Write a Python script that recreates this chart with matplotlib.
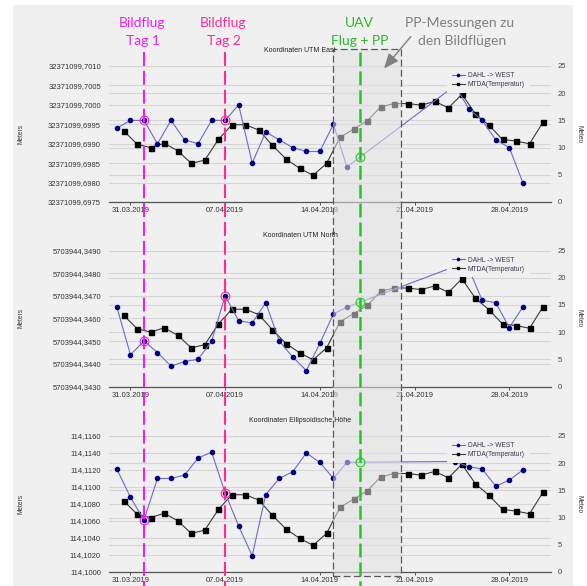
import matplotlib
matplotlib.use("Agg")
import matplotlib.pyplot as plt
import matplotlib.dates as mdates
import matplotlib.ticker as mticker
from matplotlib.lines import Line2D
from matplotlib.patches import Rectangle, FancyArrowPatch, ArrowStyle
from matplotlib.transforms import blended_transform_factory
import numpy as np
from datetime import datetime, timedelta

plt.rcParams['font.family'] = ['Liberation Sans', 'DejaVu Sans']
plt.rcParams['lines.scale_dashes'] = False

# ---------------- data ----------------
series_start = datetime(2019, 3, 30)
# MTDA temperature, daily values at 12:00 (30.03. - 30.04.)
temp_day_offsets = list(range(32))
temperature = [13.1, 10.6, 10.0, 10.8, 9.4, 7.1, 7.7, 11.5, 14.2, 14.2, 13.2, 10.4,
               7.9, 6.2, 4.9, 7.1, 11.9, 13.4, 14.9, 17.5, 18.1, 18.1, 17.8, 18.5,
               17.3, 19.8, 16.2, 14.1, 11.5, 11.2, 10.7, 14.7]
# DAHL -> WEST daily solutions at 00:00 (gap 17.04. - 23.04.)
gnss_day_offsets = list(range(0, 18)) + list(range(25, 31))
utm_east = [32371099.6994, 32371099.6996, 32371099.6996, 32371099.6990, 32371099.6996,
            32371099.6991, 32371099.6990, 32371099.6996, 32371099.6996, 32371099.7000,
            32371099.6985, 32371099.6993, 32371099.6991, 32371099.6989, 32371099.6988,
            32371099.6988, 32371099.6995, 32371099.6984,
            32371099.7005, 32371099.6999, 32371099.6996, 32371099.6991, 32371099.6989,
            32371099.6980]
utm_north = [5703944.3465, 5703944.3444, 5703944.3450, 5703944.3445, 5703944.3439,
             5703944.3441, 5703944.3442, 5703944.3450, 5703944.3470, 5703944.3459,
             5703944.3458, 5703944.3467, 5703944.3450, 5703944.3443, 5703944.3437,
             5703944.3449, 5703944.3462, 5703944.3465,
             5703944.3483, 5703944.3482, 5703944.3468, 5703944.3467, 5703944.3456,
             5703944.3465]
ell_height = [114.1121, 114.1088, 114.1061, 114.1110, 114.1110, 114.1114, 114.1134,
              114.1141, 114.1093, 114.1054, 114.1019, 114.1091, 114.1110, 114.1118,
              114.1140, 114.1129, 114.1110, 114.1129,
              114.1130, 114.1124, 114.1121, 114.1101, 114.1108, 114.1120]

panel_titles = ["Koordinaten UTM East", "Koordinaten UTM North", "Koordinaten Ellipsoidische Höhe"]
panel_ylims = [(32371099.6975, 32371099.7010), (5703944.3430, 5703944.3490), (114.1000, 114.1160)]
panel_nticks = [8, 7, 9]
temp_ticks = [0, 5, 10, 15, 20, 25]
tick_labels = ['31.03.2019', '07.04.2019', '14.04.2019', '21.04.2019', '28.04.2019']
flight_day1 = datetime(2019, 4, 1)
flight_day2 = datetime(2019, 4, 7)
uav_flight = datetime(2019, 4, 17)
pp_start = datetime(2019, 4, 15)
pp_end = datetime(2019, 4, 20)
legend_labels = ['DAHL -> WEST', 'MTDA(Temperatur)']

# ---------------- layout ----------------
W, H = 587, 586
fx = lambda x: x / W
fy = lambda y: 1 - y / H
L, R = 109, 551
PH = 136
tops = [66, 250.5, 436]
BG = '#f0f0f0'
BLUE_LINE = '#6b6bc8'
BLUE_MARK = '#000080'
PINK1 = '#f01ef0'
PINK2 = '#ff2a96'
GREEN = '#22c822'

fig = plt.figure(figsize=(W / 100, H / 100), dpi=100)
fig.patch.set_facecolor('white')
fig.add_artist(Rectangle((fx(13), 0), fx(573) - fx(13), 1 - 5 / H, transform=fig.transFigure,
                         facecolor=BG, edgecolor='none', zorder=-10))

temp_dates = [series_start + timedelta(days=d, hours=12) for d in temp_day_offsets]
gnss_dates = [series_start + timedelta(days=d) for d in gnss_day_offsets]
gnss_num = mdates.date2num(gnss_dates)
tick_dates = [datetime.strptime(t, '%d.%m.%Y') for t in tick_labels]
xlim = (mdates.date2num(datetime(2019, 3, 29, 10)), mdates.date2num(datetime(2019, 5, 1, 2)))

fmt = mticker.FuncFormatter(lambda v, p: f"{v:.4f}".replace('.', ','))
series = [utm_east, utm_north, ell_height]
axes_left = []
for i in range(3):
    top = tops[i]
    rect = [fx(L), fy(top + PH), fx(R) - fx(L), PH / H]
    axL = fig.add_axes(rect)
    axR = axL.twinx()
    axL.set_zorder(axR.get_zorder() + 1)
    axL.patch.set_visible(False)
    axR.patch.set_facecolor(BG)
    lo, hi = panel_ylims[i]
    lticks = np.linspace(lo, hi, panel_nticks[i])
    axL.set_ylim(lo, hi)
    axR.set_ylim(0, 25)
    axL.set_xlim(*xlim)
    # grids (all drawn on the lower axes)
    for t in temp_ticks:
        axR.axhline(t, color='#d6d6d6', lw=0.8, zorder=0)
    for v in lticks:
        axR.axhline((v - lo) / (hi - lo) * 25, color='#d6d6d6', lw=0.8, zorder=0)
    # data
    hk, = axR.plot(temp_dates, temperature, color='#3a3a3a', lw=0.8, marker='s', ms=3.6,
                   mfc='black', mec='black', zorder=3, label=legend_labels[1])
    hb, = axL.plot(gnss_dates, series[i], color=BLUE_LINE, lw=0.8, marker='o', ms=3,
                   mfc=BLUE_MARK, mec=BLUE_MARK, zorder=3, label=legend_labels[0])
    # axes styling
    axL.set_yticks(lticks)
    axL.yaxis.set_major_formatter(fmt)
    axL.tick_params(axis='y', length=0, pad=5.8, labelsize=5.5, labelcolor='#333333')
    axR.set_yticks(temp_ticks)
    axR.tick_params(axis='y', length=0, pad=5, labelsize=5.5, labelcolor='#444444')
    axL.set_xticks(mdates.date2num(tick_dates))
    axL.set_xticklabels(tick_labels)
    axL.tick_params(axis='x', length=2.2, width=0.7, color='#555555', pad=1.5,
                    labelsize=5.5, labelcolor='#333333')
    for s in ['top', 'left', 'right']:
        axL.spines[s].set_visible(False)
    for s in axR.spines:
        axR.spines[s].set_visible(False)
    axL.spines['bottom'].set_color('#555555')
    axL.spines['bottom'].set_linewidth(0.9)
    leg = axL.legend(handles=[hb, hk], loc='upper left',
                     bbox_to_anchor=((447 - L) / (R - L), 1 - 1.5 / PH),
                     bbox_transform=axL.transAxes, frameon=True, facecolor=BG,
                     edgecolor='none', framealpha=1, fancybox=False, fontsize=4.8,
                     borderpad=0.7, handlelength=2.0, handletextpad=0.45,
                     labelspacing=0.32, borderaxespad=0, markerscale=0.55)
    for t in leg.get_texts():
        t.set_color('#3a3550')
    # titles and axis labels
    fig.text(fx(300), fy(top - 15.5), panel_titles[i], ha='center', va='center',
             fontsize=5, color='#222222')
    fig.text(fx(21), fy(top + 68), 'Meters', rotation=90, ha='center', va='center',
             fontsize=4.7, color='#333333')
    fig.text(fx(579), fy(top + 68), 'Meteo', rotation=270, ha='center', va='center',
             fontsize=4.7, color='#333333')
    axes_left.append(axL)

# ---------------- overlays ----------------
bt = blended_transform_factory(axes_left[2].transData, fig.transFigure)
x_pp0, x_pp1 = mdates.date2num(pp_start), mdates.date2num(pp_end)
fig.add_artist(Rectangle((x_pp0, fy(575.6)), x_pp1 - x_pp0, (575.6 - 49.4) / H, transform=bt,
                         facecolor='#e2e2e2', edgecolor='none', alpha=0.54, zorder=2))
fig.add_artist(Rectangle((x_pp0, fy(575.6)), x_pp1 - x_pp0, (575.6 - 49.4) / H, transform=bt,
                         fill=False, edgecolor='#5a5a5a', lw=0.9, ls=(0, (5, 2.3)), zorder=3))

for d, c in [(flight_day1, PINK1), (flight_day2, PINK2)]:
    xd = mdates.date2num(d)
    fig.add_artist(Line2D([xd, xd], [fy(52), 0], transform=bt, color=c, lw=1.5,
                          dashes=(10, 3.6), zorder=3))
xu = mdates.date2num(uav_flight)
fig.add_artist(Line2D([xu, xu], [fy(52), 0], transform=bt, color=GREEN, lw=1.8,
                      dashes=(10, 3.6), zorder=4))

for ax, vals in zip(axes_left, series):
    for d, c in [(flight_day1, PINK1), (flight_day2, PINK2), (uav_flight, GREEN)]:
        xd = mdates.date2num(d)
        yv = np.interp(xd, gnss_num, vals)
        fig.add_artist(Line2D([xd], [yv], transform=ax.transData, marker='o', ms=6.3,
                              mfc='none', mec=c, mew=0.8, linestyle='none', zorder=5))

# annotation texts
TF = ['Lato', 'DejaVu Sans']
def big(x, y, s, c):
    fig.text(fx(x), fy(y), s, ha='center', va='baseline', fontsize=10, color=c, family=TF)
big(141.8, 27.3, 'Bildflug', PINK1)
big(143, 45, 'Tag 1', PINK1)
big(222.7, 27.3, 'Bildflug', PINK2)
big(224, 45, 'Tag 2', PINK2)
big(359.3, 27.3, 'UAV', '#2ab82a')
big(359.8, 45, 'Flug + PP', '#2ab82a')
big(460, 27.3, 'PP-Messungen zu', '#7f7f7f')
big(462, 45, 'den Bildflügen', '#7f7f7f')

fig.add_artist(FancyArrowPatch((fx(410.7), fy(36.7)), (fx(384), fy(68.5)),
                               transform=fig.transFigure,
                               arrowstyle=ArrowStyle('-|>', head_length=0.6, head_width=0.25),
                               mutation_scale=15, color='#7f7f7f', lw=1,
                               shrinkA=0, shrinkB=0, zorder=4))

fig.savefig('out.png', dpi=100, facecolor=fig.get_facecolor())
